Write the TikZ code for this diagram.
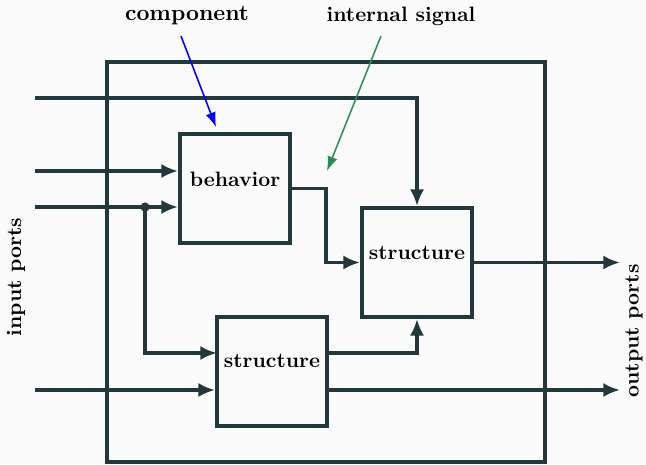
\documentclass[tikz,border=0pt]{standalone}
\usepackage{tikz}
\usetikzlibrary{arrows.meta,calc}
\definecolor{wire}{RGB}{34,56,60}
\definecolor{sigcol}{RGB}{46,139,87}
\definecolor{bgcol}{RGB}{250,250,250}

\tikzset{
  wirepath/.style={line width=1.9pt,draw=wire,line join=miter},
  wirearrow/.style={wirepath,-{Latex[length=8pt,width=6.8pt]}},
  blockbox/.style={draw=wire,line width=1.9pt,minimum width=52.8pt,minimum height=52.3pt,inner sep=0pt},
  note/.style={font=\bfseries,text=black},
  toplabel/.style={font=\fontsize{10.8}{13}\bfseries\selectfont,text=black},
  pointer/.style={line width=0.75pt,-{Latex[length=7pt,width=5pt]}}
}

\begin{document}
\begin{tikzpicture}[x=0.48pt,y=-0.48pt]
  \fill[bgcol] (0,0) rectangle (646,464);
  \useasboundingbox (0,0) rectangle (646,464);

  % outer frame
  \draw[wirepath] (107,62) rectangle (545,462);

  % blocks
  \node[blockbox,label={[note,yshift=4.3pt]center:behavior}] (behav) at (235,188.5) {};
  \node[blockbox,label={[note,yshift=4.5pt]center:structure}] (structR) at (417,262.5) {};
  \node[blockbox,label={[note,yshift=5pt]center:structure}] (structB) at (272,371.5) {};

  % ports
  \coordinate (in1) at (35,98);
  \coordinate (in2) at (35,171);
  \coordinate (in3) at (35,207);
  \coordinate (in4) at (35,390);
  \coordinate (jn) at (145,207);
  \coordinate (fb) at (217,353);
  \coordinate (mid) at (326,188.5);
  \coordinate (out1) at (620,262.5);
  \coordinate (out2) at (620,390);

  \draw[wirearrow] (in1) -| (structR.north);
  \draw[wirearrow] (in2) -- (in2 -| behav.west);
  \draw[wirearrow] (in3) -- (in3 -| behav.west);
  \draw[wirearrow] (jn) |- (fb);
  \fill[wire] (jn) circle (2.2pt);
  \draw[wirearrow] (in4) -- (in4 -| structB.west);

  \draw[wirearrow] (behav.east) -- (mid) |- (structR.west);
  \draw[wirearrow] (fb -| structB.east) -| (structR.south);
  \draw[wirearrow] (structR.east) -- (out1);
  \draw[wirearrow] (in4 -| structB.east) -- (out2);

  % labels
  \node[toplabel] (comp) at (187,16) {component};
  \node[note] (isig) at (401,16) {internal signal};
  \coordinate (compTip) at (216,127);
  \coordinate (sigTip) at (327,171);
  \draw[pointer,blue] (181,36) -- (compTip);
  \draw[pointer,sigcol] (381,36) -- (sigTip);

  \node[note,rotate=90] (inports) at (16,277) {input ports};
  \node[note,rotate=90] (outports) at (634,331) {output ports};
\end{tikzpicture}
\end{document}
